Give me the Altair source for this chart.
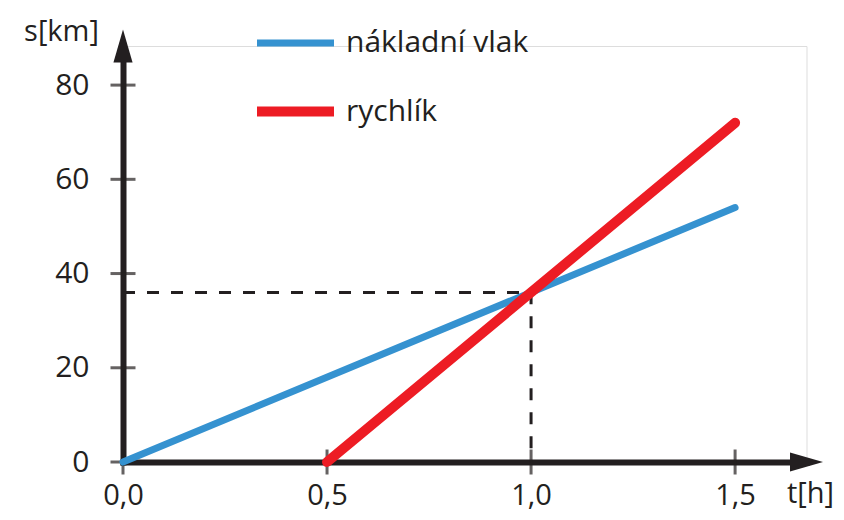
import altair as alt
import pandas as pd

# Data
series_names = ["nákladní vlak", "rychlík"]
blue_t = [0.0, 1.5]
blue_s = [0, 54]
red_t = [0.5, 1.5]
red_s = [0, 72]
meet_t = [0.0, 1.0, 1.0]
meet_s = [36, 36, 0]
x_ticks = [0.0, 0.5, 1.0, 1.5]
y_ticks = [0, 20, 40, 60, 80]

colors = ["#3592d0", "#ed1c24"]
dark = "#231f20"
FONT = "Open Sans"

XMAX = 1.675
YMAX = 88.3
W = 683.5
H = 416

lines = pd.DataFrame(
    {"t": blue_t + red_t,
     "s": blue_s + red_s,
     "vlak": [series_names[0]] * len(blue_t) + [series_names[1]] * len(red_t)}
)
meet = pd.DataFrame({"t": meet_t, "s": meet_s, "o": list(range(len(meet_t)))})
xt = pd.DataFrame({"t": x_ticks, "s": [0] * len(x_ticks)})
yt = pd.DataFrame({"t": [0] * len(y_ticks), "s": y_ticks})

xscale = alt.Scale(domain=[0, XMAX], nice=False, zero=False)
yscale = alt.Scale(domain=[0, YMAX], nice=False, zero=False)

xaxis = alt.Axis(
    values=x_ticks, format=".1f", labelExpr="replace(datum.label, '.', ',')",
    grid=False, ticks=False, tickSize=0, domain=True, domainWidth=6, domainColor=dark,
    domainCap="square", labelFont=FONT, labelFontSize=29, labelColor=dark,
    labelPadding=19, labelBaseline="top", labelFlush=False, labelAlign="center",
    title="t[h]", titleX=687, titleY=31, titleAngle=0, titleAlign="center",
    titleBaseline="middle", titleFont=FONT, titleFontSize=29,
    titleFontWeight="normal", titleColor=dark,
)
yaxis = alt.Axis(
    values=y_ticks, grid=False, ticks=False, tickSize=0, domain=True, domainWidth=6,
    domainColor=dark, domainCap="square", labelFont=FONT, labelFontSize=30,
    labelColor=dark, labelPadding=34, labelFlush=False,
    title="s[km]", titleX=-62, titleY=-15, titleAngle=0, titleAlign="center",
    titleBaseline="middle", titleFont=FONT, titleFontSize=29,
    titleFontWeight="normal", titleColor=dark,
)

base_x = alt.X("t:Q", scale=xscale, axis=xaxis)
base_y = alt.Y("s:Q", scale=yscale, axis=yaxis)

dashed = alt.Chart(meet).mark_line(
    color=dark, strokeWidth=3, strokeDash=[12, 12]
).encode(x=base_x, y=base_y, order="o:Q")

xtick_layer = alt.Chart(xt).mark_tick(
    orient="vertical", size=25, thickness=3, color=dark
).encode(x=alt.X("t:Q", scale=xscale), y=alt.Y("s:Q", scale=yscale))

ytick_layer = alt.Chart(yt).mark_tick(
    orient="horizontal", size=25, thickness=3, color=dark
).encode(x=alt.X("t:Q", scale=xscale), y=alt.Y("s:Q", scale=yscale))

line_layer = alt.Chart(lines).mark_line(strokeCap="round").encode(
    x=alt.X("t:Q", scale=xscale),
    y=alt.Y("s:Q", scale=yscale),
    color=alt.Color(
        "vlak:N",
        scale=alt.Scale(domain=series_names, range=colors),
        legend=alt.Legend(
            title=None, orient="none", legendX=129, legendY=-45,
            symbolType="stroke", symbolSize=5929, symbolStrokeWidth=9,
            labelFont=FONT, labelFontSize=30, labelColor=dark, labelLimit=0,
            labelOffset=7, rowPadding=10, direction="vertical",
        ),
    ),
    strokeWidth=alt.StrokeWidth(
        "vlak:N", scale=alt.Scale(domain=series_names, range=[7, 10]), legend=None
    ),
)

arrows_df = pd.DataFrame({"t": [XMAX, 0.0], "s": [0, YMAX], "a": [0, 270]})
arrow_layer = alt.Chart(arrows_df).mark_point(
    shape="M -1 -0.58 L 1 0 L -1 0.58 Z", size=1089, filled=True,
    color=dark, opacity=1, strokeWidth=0,
).encode(
    x=alt.X("t:Q", scale=xscale), y=alt.Y("s:Q", scale=yscale),
    angle=alt.Angle("a:Q", scale=None),
)

chart = alt.layer(
    dashed, xtick_layer, ytick_layer, line_layer, arrow_layer
).properties(
    width=W, height=H,
    autosize=alt.AutoSizeParams(type="none"),
    padding={"left": 115, "top": 38, "right": 29.5, "bottom": 50},
).configure_view(stroke=None).configure(background="white")

chart.save("out.html", embed_options={"renderer": "svg", "actions": False})
